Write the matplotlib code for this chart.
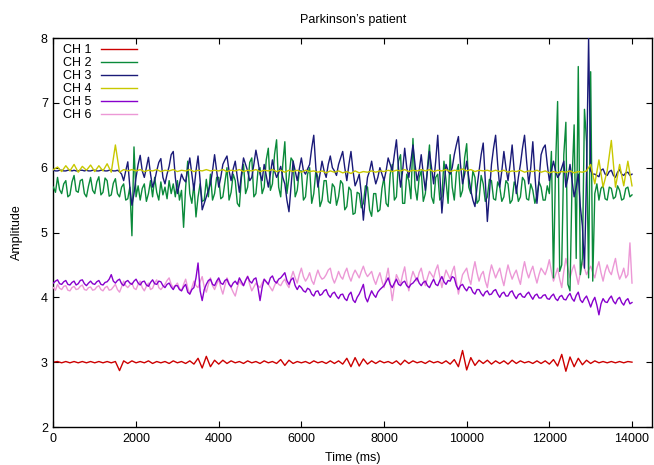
import numpy as np
import matplotlib
matplotlib.use("Agg")
import matplotlib.pyplot as plt

plt.rcParams['font.family'] = ['Liberation Sans', 'DejaVu Sans']

# CH1 and CH4: one sample every 100 ms
ch1 = [3.00, 3.01, 2.99, 3.01, 2.99, 3.01, 2.99, 3.01, 2.99, 3.01,
       2.99, 3.01, 2.99, 3.01, 2.99, 3.01, 2.87, 3.02, 2.98, 3.02,
       2.99, 3.01, 2.99, 3.02, 2.98, 3.01, 2.99, 3.01, 2.98, 3.02,
       2.99, 3.01, 2.98, 3.02, 2.97, 3.06, 2.91, 3.09, 2.93, 3.03,
       2.97, 3.03, 2.98, 3.02, 2.99, 3.01, 2.98, 3.02, 2.99, 3.01,
       2.98, 3.02, 2.99, 3.01, 2.98, 3.04, 2.95, 3.03, 2.98, 3.01,
       2.99, 3.01, 2.98, 3.02, 2.99, 3.01, 2.98, 3.02, 2.98, 3.02,
       2.97, 3.06, 2.93, 3.07, 2.94, 3.05, 2.97, 3.02, 2.98, 3.02,
       2.99, 3.01, 2.98, 3.02, 2.96, 3.03, 2.98, 3.02, 2.99, 3.01,
       2.98, 3.02, 2.99, 3.01, 2.98, 3.02, 2.97, 3.04, 2.93, 3.18,
       2.88, 3.07, 2.95, 3.03, 2.98, 3.03, 2.97, 3.02, 2.98, 3.02,
       2.97, 3.03, 2.98, 3.02, 2.99, 3.01, 2.98, 3.02, 2.98, 3.02,
       2.97, 3.04, 2.94, 3.12, 2.86, 3.08, 2.93, 3.06, 2.96, 3.03,
       2.98, 3.02, 2.99, 3.01, 2.99, 3.01, 2.99, 3.01, 2.99, 3.01, 3.00]

ch4 = [5.97, 6.01, 5.94, 6.03, 5.95, 6.05, 5.93, 6.02, 5.96, 6.04,
       5.94, 6.03, 5.95, 6.06, 5.93, 6.35, 5.93, 5.97, 5.95, 5.97,
       5.95, 5.97, 5.94, 5.96, 5.95, 5.97, 5.94, 5.96, 5.95, 5.97,
       5.94, 5.96, 5.95, 5.97, 5.94, 5.96, 5.95, 5.97, 5.95, 5.96,
       5.95, 5.97, 5.94, 5.96, 5.95, 5.97, 5.94, 5.96, 5.95, 5.97,
       5.94, 5.96, 5.95, 5.97, 5.94, 5.96, 5.93, 5.96, 5.94, 5.96,
       5.93, 5.96, 5.94, 5.95, 5.93, 5.95, 5.92, 5.95, 5.93, 5.95,
       5.92, 5.94, 5.91, 5.95, 5.92, 5.94, 5.93, 5.95, 5.93, 5.95,
       5.94, 5.96, 5.94, 5.96, 5.95, 5.97, 5.94, 5.96, 5.95, 5.97,
       5.95, 5.97, 5.94, 5.96, 5.95, 5.97, 5.94, 5.96, 5.95, 5.98,
       5.95, 5.97, 5.94, 5.96, 5.95, 5.96, 5.94, 5.96, 5.94, 5.96,
       5.93, 5.95, 5.94, 5.96, 5.93, 5.95, 5.94, 5.96, 5.93, 5.95,
       5.92, 5.94, 5.92, 5.94, 5.93, 5.95, 5.92, 5.94, 5.93, 5.95,
       6.05, 5.75, 6.12, 5.70, 5.95, 6.42, 5.70, 6.05, 5.72, 6.10, 5.72]

# CH2, CH3, CH5, CH6: one sample every 50 ms (one row = 1000 ms)
ch2 = [5.70, 5.62, 5.85, 5.66, 5.60, 5.75, 5.80, 5.55, 5.58, 5.78, 5.88, 5.64, 5.62, 5.80, 5.82, 5.60, 5.55, 5.72, 5.85, 5.65,
       5.60, 5.78, 5.86, 5.58, 5.62, 5.84, 5.80, 5.56, 5.58, 5.76, 5.83, 5.60, 5.55, 5.70, 5.75, 5.50, 5.52, 5.70, 4.95, 6.32,
       5.55, 5.72, 5.50, 5.68, 5.75, 5.48, 5.60, 5.80, 5.55, 5.85, 5.62, 5.50, 5.78, 5.58, 5.70, 5.52, 5.80, 5.60, 5.75, 5.55,
       5.80, 5.50, 5.65, 5.08, 5.70, 6.10, 5.60, 5.45, 5.75, 5.24, 5.55, 5.75, 5.48, 5.50, 5.82, 5.55, 5.90, 5.50, 5.60, 5.85,
       5.85, 5.52, 5.55, 5.78, 6.00, 5.50, 5.62, 5.90, 5.80, 5.45, 5.40, 5.85, 6.05, 5.60, 5.70, 6.08, 6.15, 5.55, 5.60, 5.95,
       6.00, 5.60, 5.70, 6.12, 6.30, 5.65, 5.75, 6.20, 6.43, 5.70, 5.55, 6.05, 6.40, 5.60, 5.85, 6.15, 6.10, 5.55, 5.65, 5.95,
       5.95, 5.50, 5.55, 5.90, 6.00, 5.45, 5.60, 5.95, 5.85, 5.40, 5.50, 5.80, 5.80, 5.48, 5.45, 5.75, 5.70, 5.42, 5.55, 5.80,
       5.75, 5.35, 5.40, 5.70, 5.65, 5.28, 5.30, 5.62, 5.60, 5.38, 5.45, 5.72, 5.70, 5.35, 5.25, 5.60, 5.60, 5.32, 5.35, 5.68,
       5.85, 5.45, 5.40, 5.90, 6.05, 5.50, 5.55, 6.10, 6.20, 5.45, 5.45, 5.90, 5.80, 5.52, 6.45, 5.70, 5.50, 5.85, 5.95, 5.48,
       5.60, 6.00, 6.35, 5.55, 5.45, 5.85, 5.90, 5.50, 5.55, 6.10, 5.80, 5.45, 6.20, 5.70, 5.50, 5.92, 6.05, 5.55, 5.65, 6.15,
       6.37, 5.70, 5.60, 5.95, 5.85, 5.45, 5.50, 5.88, 5.75, 5.48, 5.55, 5.82, 5.80, 5.52, 5.50, 5.78, 5.70, 5.48, 5.55, 5.80,
       5.75, 5.45, 5.50, 5.78, 5.70, 5.48, 5.55, 5.85, 5.80, 5.52, 5.50, 5.75, 5.65, 5.45, 5.58, 5.78, 5.70, 5.50, 5.50, 5.72,
       5.60, 6.25, 4.30, 6.00, 7.02, 4.40, 4.50, 6.20, 6.70, 4.20, 4.10, 5.80, 6.66, 4.60, 7.56, 4.35, 4.60, 6.90, 6.40, 4.30,
       7.48, 4.25, 5.60, 5.75, 5.50, 5.68, 5.72, 5.52, 5.50, 5.70, 5.68, 5.52, 5.55, 5.72, 5.65, 5.50, 5.52, 5.68, 5.70, 5.55,
       5.58]

ch3 = [5.96, 5.95, 5.95, 5.96, 5.96, 5.95, 5.95, 5.96, 5.96, 5.95, 5.96, 5.95, 5.95, 5.96, 5.96, 5.95, 5.96, 5.95, 5.95, 5.96,
       5.96, 5.95, 5.95, 5.96, 5.96, 5.95, 5.95, 5.96, 5.96, 5.95, 5.95, 5.96, 5.94, 5.90, 5.80, 5.95, 6.09, 5.70, 5.42, 5.60,
       5.85, 6.05, 6.19, 5.95, 5.85, 6.00, 6.16, 5.90, 5.70, 5.80, 5.95, 6.08, 6.14, 5.85, 5.75, 5.90, 6.02, 6.20, 6.25, 5.85,
       5.60, 5.75, 5.90, 5.82, 5.78, 5.98, 6.15, 5.90, 5.65, 5.95, 6.18, 5.80, 5.35, 5.45, 5.55, 5.65, 5.75, 5.95, 6.20, 5.95,
       5.70, 5.85, 6.05, 6.12, 6.18, 5.95, 5.80, 5.98, 6.10, 5.85, 5.62, 5.90, 6.15, 6.05, 5.95, 5.80, 5.85, 6.05, 6.27, 6.10,
       5.90, 5.80, 6.05, 5.88, 5.70, 5.90, 6.12, 5.95, 5.85, 5.92, 6.02, 5.85, 5.75, 5.50, 5.32, 5.70, 6.10, 5.95, 5.80, 5.98,
       6.15, 5.95, 5.90, 5.98, 6.05, 6.30, 6.50, 6.00, 5.70, 5.90, 6.10, 5.95, 5.85, 6.05, 6.18, 6.00, 5.95, 5.88, 6.05, 6.15,
       6.25, 6.00, 5.80, 6.05, 6.25, 5.95, 5.72, 5.80, 5.90, 5.60, 5.19, 5.55, 5.85, 5.95, 6.10, 5.90, 5.75, 5.85, 6.00, 5.90,
       5.80, 5.95, 6.15, 6.05, 5.95, 6.20, 6.43, 6.00, 5.70, 5.95, 6.30, 6.00, 5.85, 6.10, 6.35, 6.05, 5.80, 5.95, 6.20, 5.90,
       5.65, 5.95, 6.25, 6.00, 5.75, 6.10, 6.50, 5.90, 5.30, 5.70, 6.05, 5.95, 5.90, 6.00, 6.20, 6.35, 6.48, 6.05, 5.75, 5.90,
       6.10, 5.85, 5.65, 5.50, 5.40, 5.70, 5.95, 6.20, 6.38, 5.80, 5.17, 5.60, 6.05, 6.30, 6.50, 6.05, 5.70, 5.95, 6.25, 6.00,
       5.80, 6.05, 6.35, 5.95, 5.60, 5.85, 6.05, 6.30, 6.50, 6.10, 5.75, 6.00, 6.40, 5.90, 5.45, 5.80, 6.20, 6.30, 6.35, 6.05,
       5.80, 5.95, 6.10, 5.95, 5.85, 5.90, 6.00, 6.10, 5.70, 5.85, 6.05, 5.80, 5.55, 5.70, 5.90, 5.40, 5.10, 4.45, 5.90, 8.00,
       5.95, 5.90, 5.90, 5.88, 5.86, 5.96, 5.98, 5.90, 5.88, 5.94, 5.96, 5.88, 5.85, 5.93, 5.97, 5.90, 5.88, 5.92, 5.93, 5.88,
       5.90]

ch5 = [4.22, 4.25, 4.27, 4.21, 4.20, 4.24, 4.26, 4.20, 4.19, 4.23, 4.25, 4.19, 4.21, 4.26, 4.27, 4.21, 4.18, 4.22, 4.25, 4.21,
       4.20, 4.24, 4.26, 4.20, 4.19, 4.23, 4.24, 4.28, 4.35, 4.25, 4.22, 4.26, 4.28, 4.21, 4.18, 4.24, 4.26, 4.22, 4.20, 4.25,
       4.28, 4.22, 4.19, 4.24, 4.25, 4.19, 4.17, 4.23, 4.27, 4.21, 4.20, 4.25, 4.24, 4.18, 4.15, 4.20, 4.22, 4.16, 4.12, 4.18,
       4.18, 4.12, 4.10, 4.16, 4.20, 4.08, 4.05, 4.12, 4.15, 4.30, 4.53, 4.10, 3.95, 4.12, 4.20, 4.26, 4.28, 4.20, 4.18, 4.25,
       4.30, 4.22, 4.20, 4.26, 4.28, 4.20, 4.16, 4.22, 4.25, 4.20, 4.30, 4.24, 4.18, 4.26, 4.32, 4.25, 4.22, 4.28, 4.30, 4.15,
       3.95, 4.15, 4.28, 4.24, 4.20, 4.30, 4.33, 4.25, 4.22, 4.28, 4.30, 4.34, 4.38, 4.26, 4.20, 4.27, 4.30, 4.18, 4.12, 4.18,
       4.15, 4.10, 4.08, 4.14, 4.12, 4.05, 4.02, 4.09, 4.10, 4.03, 4.05, 4.10, 4.12, 4.04, 4.00, 4.06, 4.08, 4.02, 3.98, 4.04,
       4.05, 3.98, 3.95, 4.04, 4.08, 3.96, 3.92, 4.00, 4.05, 4.12, 4.20, 4.00, 3.93, 4.02, 4.10, 4.04, 4.00, 4.08, 4.12, 4.15,
       4.18, 4.24, 4.30, 4.20, 4.15, 4.22, 4.28, 4.20, 4.18, 4.23, 4.25, 4.18, 4.15, 4.20, 4.22, 4.26, 4.30, 4.22, 4.18, 4.23,
       4.25, 4.18, 4.15, 4.22, 4.28, 4.20, 4.18, 4.26, 4.32, 4.24, 4.20, 4.26, 4.25, 4.32, 4.30, 4.18, 4.12, 4.18, 4.20, 4.14,
       4.10, 4.16, 4.15, 4.08, 4.05, 4.12, 4.12, 4.06, 4.02, 4.08, 4.10, 4.04, 4.05, 4.10, 4.12, 4.05, 4.00, 4.06, 4.08, 4.02,
       4.02, 4.08, 4.10, 4.03, 3.98, 4.04, 4.06, 4.01, 4.00, 4.05, 4.08, 4.02, 3.97, 4.03, 4.05, 3.99, 3.99, 4.03, 4.04, 3.98,
       3.97, 4.02, 4.05, 3.98, 3.95, 4.01, 4.03, 3.97, 3.96, 4.02, 4.06, 3.98, 3.94, 4.03, 4.08, 3.96, 3.92, 3.98, 4.02, 3.94,
       3.85, 3.94, 4.00, 3.88, 3.73, 3.90, 3.98, 3.93, 3.92, 3.98, 4.02, 3.94, 3.90, 3.97, 4.00, 3.92, 3.88, 3.95, 3.98, 3.90,
       3.92]

ch6 = [4.15, 4.11, 4.20, 4.14, 4.12, 4.17, 4.18, 4.11, 4.10, 4.15, 4.17, 4.12, 4.13, 4.17, 4.19, 4.12, 4.11, 4.15, 4.16, 4.11,
       4.12, 4.16, 4.18, 4.12, 4.10, 4.15, 4.17, 4.11, 4.12, 4.16, 4.20, 4.12, 4.08, 4.16, 4.25, 4.18, 4.15, 4.19, 4.22, 4.14,
       4.12, 4.20, 4.25, 4.15, 4.10, 4.17, 4.22, 4.12, 4.14, 4.22, 4.27, 4.15, 4.12, 4.16, 4.20, 4.26, 4.30, 4.20, 4.15, 4.18,
       4.22, 4.14, 4.10, 4.20, 4.28, 4.15, 4.05, 4.15, 4.25, 4.18, 4.15, 4.24, 4.32, 4.16, 4.08, 4.20, 4.30, 4.18, 4.12, 4.20,
       4.28, 4.15, 4.05, 4.18, 4.30, 4.22, 4.15, 4.08, 4.02, 4.15, 4.25, 4.20, 4.18, 4.26, 4.33, 4.20, 4.10, 4.16, 4.22, 4.18,
       4.15, 4.22, 4.28, 4.24, 4.20, 4.15, 4.10, 4.18, 4.25, 4.20, 4.18, 4.24, 4.28, 4.20, 4.15, 4.30, 4.40, 4.30, 4.22, 4.35,
       4.45, 4.32, 4.25, 4.30, 4.38, 4.26, 4.20, 4.32, 4.42, 4.33, 4.28, 4.30, 4.35, 4.42, 4.45, 4.30, 4.22, 4.30, 4.40, 4.32,
       4.28, 4.38, 4.45, 4.33, 4.25, 4.35, 4.42, 4.36, 4.30, 4.40, 4.48, 4.38, 4.32, 4.36, 4.40, 4.28, 4.20, 4.30, 4.38, 4.25,
       4.15, 4.30, 4.45, 4.20, 3.95, 4.18, 4.35, 4.28, 4.20, 4.35, 4.47, 4.25, 4.10, 4.28, 4.40, 4.32, 4.25, 4.38, 4.45, 4.30,
       4.18, 4.30, 4.40, 4.35, 4.30, 4.42, 4.50, 4.32, 4.15, 4.30, 4.42, 4.35, 4.28, 4.40, 4.48, 4.25, 4.05, 4.20, 4.35, 4.40,
       4.45, 4.30, 4.20, 4.40, 4.55, 4.38, 4.25, 4.35, 4.40, 4.25, 4.15, 4.35, 4.50, 4.40, 4.30, 4.38, 4.45, 4.30, 4.18, 4.35,
       4.50, 4.38, 4.28, 4.36, 4.42, 4.30, 4.20, 4.40, 4.55, 4.40, 4.30, 4.40, 4.48, 4.34, 4.22, 4.35, 4.45, 4.40, 4.35, 4.45,
       4.58, 4.40, 4.25, 4.35, 4.45, 4.28, 4.15, 4.40, 4.60, 4.45, 4.30, 4.42, 4.50, 4.35, 4.20, 4.38, 4.55, 4.45, 4.35, 4.42,
       4.48, 4.38, 4.30, 4.45, 4.55, 4.38, 4.25, 4.40, 4.50, 4.40, 4.35, 4.48, 4.60, 4.40, 4.28, 4.35, 4.45, 4.30, 4.35, 4.84,
       4.22]

labels = ['CH 1', 'CH 2', 'CH 3', 'CH 4', 'CH 5', 'CH 6']
colors = ['#cc0000', '#0a8a3a', '#1a1a78', '#c8c800', '#8800cc', '#ec98d6']
series = [ch1, ch2, ch3, ch4, ch5, ch6]
zorders = [2, 4, 5, 6, 3.5, 3]
widths = [1.8, 1.0, 1.0, 1.4, 1.0, 1.0]

fig = plt.figure(figsize=(6.54, 4.65), dpi=100)
ax = fig.add_axes([53.4 / 654, 1 - 427 / 465, (652 - 53.4) / 654, (427 - 38) / 465])

for lab, col, ys, z, lw in zip(labels, colors, series, zorders, widths):
    t = np.linspace(0, 14000, len(ys))
    ax.plot(t, ys, color=col, lw=lw, label=lab, zorder=z)

ax.set_xlim(0, 14484)
ax.set_ylim(2, 8)
ax.set_xticks(range(0, 14001, 2000))
ax.set_yticks(range(2, 9))
ax.tick_params(direction='in', top=True, right=True, length=4, width=0.8,
               labelsize=9, pad=4)
for s in ax.spines.values():
    s.set_linewidth(1.0)

ax.set_title('Parkinson\u2019s patient', fontsize=9, pad=11)
ax.set_xlabel('Time (ms)', fontsize=9, labelpad=5)
ax.set_ylabel('Amplitude', fontsize=9, labelpad=13)

handles, labs = ax.get_legend_handles_labels()
for h in handles:
    h.set_linewidth(1.0)
leg = ax.legend(handles, labs, loc='upper left', bbox_to_anchor=(0.006, 1.0),
                frameon=False, markerfirst=False, fontsize=9,
                handlelength=2.9, handletextpad=0.75, labelspacing=0.08,
                borderaxespad=0.3, borderpad=0.2)

fig.savefig('out.png', dpi=100)
